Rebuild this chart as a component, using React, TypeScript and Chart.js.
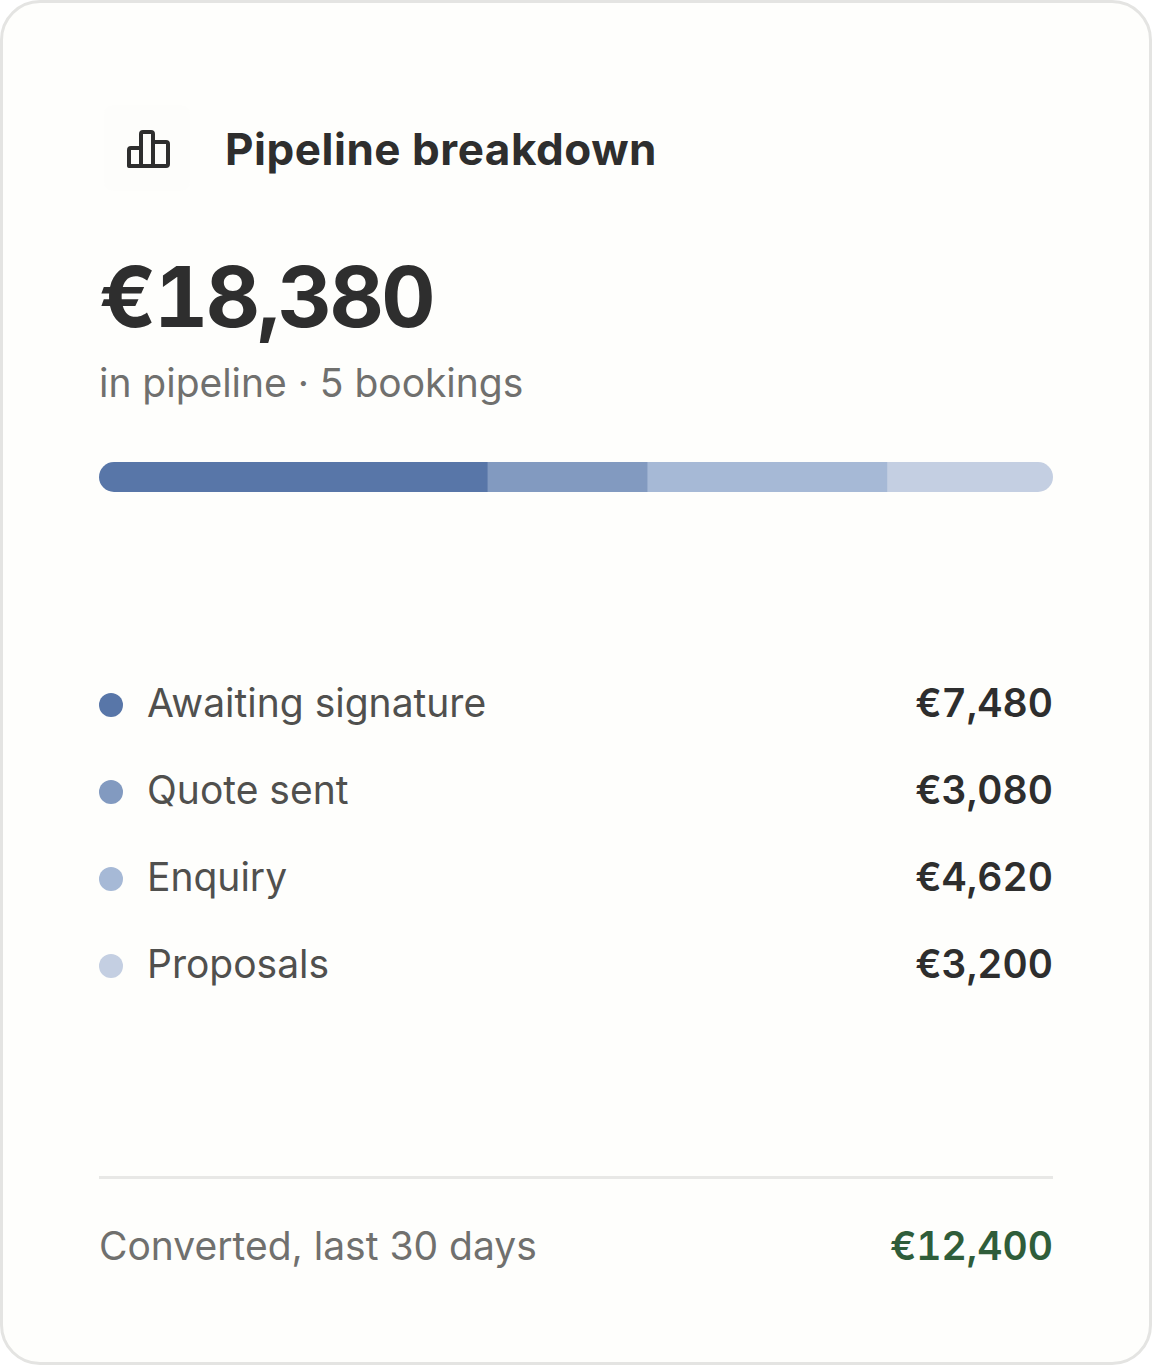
import React, { useEffect, useRef } from "react";
import { Chart, registerables } from "chart.js";

Chart.register(...registerables);

const categories = ["Awaiting signature", "Quote sent", "Enquiry", "Proposals"];
const values = [7480, 3080, 4620, 3200];
const valueLabels = ["€7,480", "€3,080", "€4,620", "€3,200"];
const colors = ["#5876a8", "#829ac0", "#a6b9d6", "#c4cfe2"];
const title = "Pipeline breakdown";
const totalLabel = "€18,380";
const subLabel = "in pipeline · 5 bookings";
const footerLabel = "Converted, last 30 days";
const footerValue = "€12,400";
const total = 18380;

const font = "Inter, sans-serif";
const abs = (left: number, top: number, extra: React.CSSProperties = {}): React.CSSProperties => ({
  position: "absolute", left, top, whiteSpace: "nowrap", ...extra,
});

export default function App() {
  const ref = useRef<HTMLCanvasElement>(null);
  useEffect(() => {
    const chart = new Chart(ref.current!, {
      type: "bar",
      data: {
        labels: ["Pipeline"],
        datasets: categories.map((c, i) => ({
          label: c,
          data: [values[i]],
          backgroundColor: colors[i],
          barPercentage: 1,
          categoryPercentage: 1,
          borderWidth: 0,
        })),
      },
      options: {
        indexAxis: "y",
        animation: false,
        responsive: false,
        layout: { padding: 0 },
        plugins: { legend: { display: false }, tooltip: { enabled: false } },
        scales: {
          x: { stacked: true, min: 0, max: total, display: false },
          y: { stacked: true, display: false },
        },
      },
    });
    return () => chart.destroy();
  }, []);

  const rowTops = [676, 763, 850, 937];
  return (
    <div style={{ position: "relative", width: 1152, height: 1365, boxSizing: "border-box", overflow: "hidden", fontFamily: font, background: "#ffffff" }}>
      <style>{"html,body{margin:0;padding:0;background:#fff}"}</style>
      <div style={{ position: "absolute", inset: 0, boxSizing: "border-box", border: "3px solid #e4e4e2", borderRadius: 40, background: "#fefefc" }} />
      <div style={{ position: "absolute", left: 104, top: 105, width: 86, height: 86, borderRadius: 10, background: "#fdfdfb" }} />
      <svg style={{ position: "absolute", left: 126, top: 129 }} width="45" height="40" viewBox="0 0 45 40" fill="none" stroke="#2e2e2e" strokeWidth="4" strokeLinejoin="round">
        <path d="M3 37 V21 Q3 19 5 19 H15 V37 Z" />
        <path d="M15 37 V5 Q15 3 17 3 H25 Q27 3 27 5 V37 Z" />
        <path d="M27 37 V13 H40 Q42 13 42 15 V35 Q42 37 40 37 H5 Q3 37 3 35" />
      </svg>
      <div style={abs(225, 122, { fontSize: 44, lineHeight: "54px", fontWeight: 700, color: "#2e2e2e", letterSpacing: 0.53 })}>{title}</div>
      <div style={abs(99, 249, { fontSize: 84, lineHeight: "96px", fontWeight: 700, color: "#2e2e2e", letterSpacing: -2.5, fontVariantNumeric: "tabular-nums" })}>{totalLabel}</div>
      <div style={abs(99, 359, { fontSize: 39, lineHeight: "48px", color: "#70706e", letterSpacing: -0.03 })}>{subLabel}</div>
      <div style={{ position: "absolute", left: 99, top: 462, width: 954, height: 30, borderRadius: 15, overflow: "hidden" }}>
        <canvas ref={ref} width={954} height={30} style={{ display: "block", width: 954, height: 30 }} />
      </div>
      {categories.map((c, i) => (
        <React.Fragment key={c}>
          <div style={{ position: "absolute", left: 99, top: rowTops[i] + 17, width: 24, height: 24, borderRadius: 12, background: colors[i] }} />
          <div style={abs(147, rowTops[i], { fontSize: 39, lineHeight: "54px", color: "#50504e" })}>{c}</div>
          <div style={abs(0, rowTops[i], { left: "auto", right: 99, fontSize: 39, lineHeight: "54px", fontWeight: 600, color: "#2e2e2e", fontVariantNumeric: "tabular-nums" })}>{valueLabels[i]}</div>
        </React.Fragment>
      ))}
      <div style={{ position: "absolute", left: 99, top: 1176, width: 954, height: 3, background: "#e8e8e6" }} />
      <div style={abs(99, 1219, { fontSize: 39, lineHeight: "54px", color: "#70706e" })}>{footerLabel}</div>
      <div style={abs(0, 1219, { left: "auto", right: 99, fontSize: 39, lineHeight: "54px", fontWeight: 600, color: "#2f5d3a", fontVariantNumeric: "tabular-nums" })}>{footerValue}</div>
    </div>
  );
}
